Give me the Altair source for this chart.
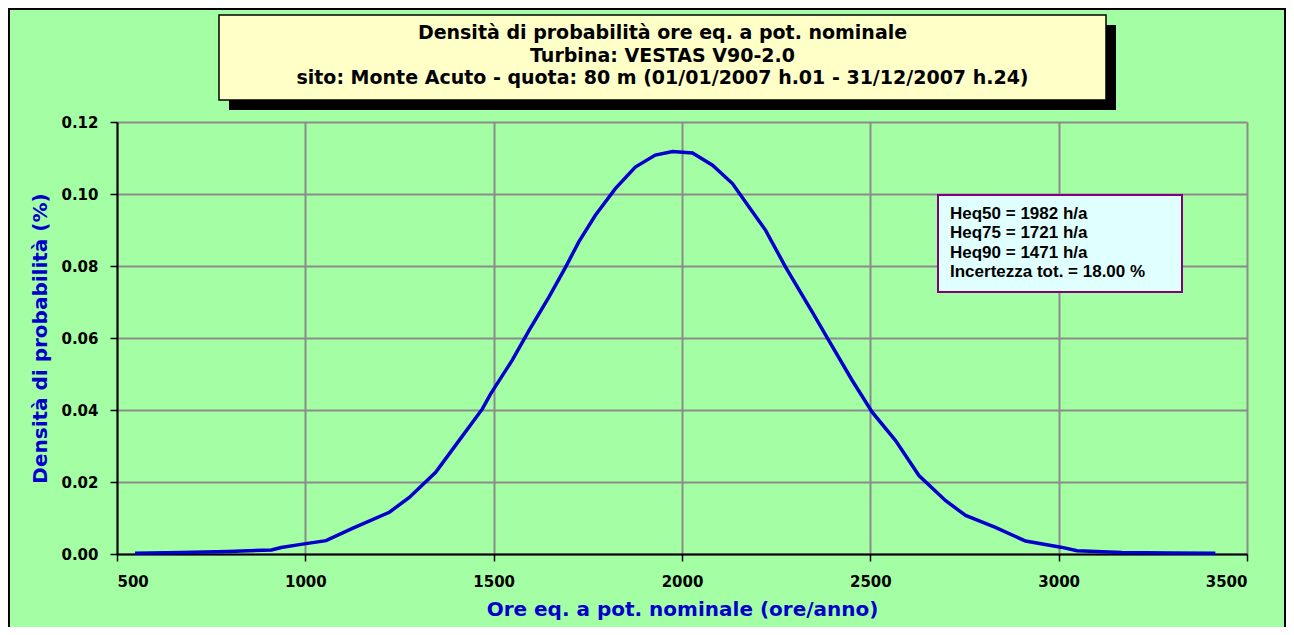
import altair as alt
import pandas as pd

# ---- data ----
hours = [548, 671, 795, 910, 936, 984, 1055, 1125, 1223, 1276, 1346, 1408, 1470, 1492,
         1549, 1594, 1647, 1691, 1726, 1770, 1823, 1876, 1929, 1975, 2028, 2081, 2134,
         2178, 2222, 2275, 2346, 2390, 2452, 2505, 2567, 2629, 2700, 2753, 2832, 2912,
         3006, 3049, 3168, 3296, 3416]
density = [0.0002, 0.0004, 0.0007, 0.0011, 0.0018, 0.0026, 0.0037, 0.0071, 0.0116, 0.0157,
           0.0227, 0.0315, 0.0403, 0.0445, 0.0538, 0.0621, 0.0714, 0.0797, 0.0867, 0.0941,
           0.1015, 0.1075, 0.1108, 0.1118, 0.1114, 0.1080, 0.1029, 0.0964, 0.0899, 0.0797,
           0.0672, 0.0593, 0.0482, 0.0394, 0.0315, 0.0218, 0.0148, 0.0107, 0.0074, 0.0036,
           0.0019, 0.0009, 0.0004, 0.0003, 0.0002]

x_ticks = [500, 1000, 1500, 2000, 2500, 3000, 3500]
y_ticks = [0.00, 0.02, 0.04, 0.06, 0.08, 0.10, 0.12]

title_lines = [
    "Densità di probabilità ore eq. a pot. nominale",
    "Turbina: VESTAS V90-2.0",
    "sito: Monte Acuto - quota: 80 m (01/01/2007 h.01 - 31/12/2007 h.24)",
]
stat_lines = [
    "Heq50 = 1982 h/a",
    "Heq75 = 1721 h/a",
    "Heq90 = 1471 h/a",
    "Incertezza tot. = 18.00 %",
]
x_title = "Ore eq. a pot. nominale (ore/anno)"
y_title = "Densità di probabilità (%)"

W, H = 1130, 432
one = pd.DataFrame({"a": [0]})
df = pd.DataFrame({"h": hours, "d": density})

frame = alt.Chart(one).mark_rect(fillOpacity=0, stroke="black", strokeWidth=2).encode(
    x=alt.value(-108), x2=alt.value(1168), y=alt.value(-113), y2=alt.value(700)
)

line = alt.Chart(df).mark_line(color="#0000CC", strokeWidth=3.5).encode(
    x=alt.X("h:Q", scale=alt.Scale(domain=[500, 3500], nice=False, zero=False),
            axis=alt.Axis(values=x_ticks, format="d", title=x_title, titlePadding=10,
                          labelPadding=13)),
    y=alt.Y("d:Q", scale=alt.Scale(domain=[0, 0.12], nice=False),
            axis=alt.Axis(values=y_ticks, format=".2f", title=y_title, titlePadding=10,
                          labelPadding=12)),
)

shadow = alt.Chart(one).mark_rect(color="black").encode(
    x=alt.value(112), x2=alt.value(999), y=alt.value(-97), y2=alt.value(-12)
)
tbox = alt.Chart(one).mark_rect(fill="#FFFFC8", stroke="black", strokeWidth=1.5).encode(
    x=alt.value(102), x2=alt.value(989), y=alt.value(-107), y2=alt.value(-22)
)
title_layers = [
    alt.Chart(one).mark_text(font="DejaVu Sans", fontSize=19, fontWeight="bold", color="black",
                             align="center", baseline="middle").encode(
        x=alt.value(545.5), y=alt.value(-89 + 22.5 * i), text=alt.value(t))
    for i, t in enumerate(title_lines)
]

sbox = alt.Chart(one).mark_rect(fill="#E0FFFF", stroke="#800080", strokeWidth=2).encode(
    x=alt.value(821), x2=alt.value(1065), y=alt.value(73), y2=alt.value(170)
)
stat_layers = [
    alt.Chart(one).mark_text(font="Liberation Sans", fontSize=17, fontWeight="bold",
                             color="black", align="left", baseline="middle").encode(
        x=alt.value(833), y=alt.value(92 + 19.3 * i), text=alt.value(t))
    for i, t in enumerate(stat_lines)
]

chart = alt.layer(frame, line, shadow, tbox, *title_layers, sbox, *stat_layers).properties(
    width=W, height=H,
    autosize=alt.AutoSizeParams(type="none"),
    padding={"left": 109, "top": 114, "right": 39, "bottom": 73},
    background="#A4FFA4",
).configure_view(strokeWidth=0).configure_axis(
    labelFont="DejaVu Sans", labelFontSize=15, labelFontWeight="bold", labelColor="black",
    domainColor="black", domainWidth=2, tickColor="black", tickWidth=1.5, tickSize=7,
    gridColor="#8c8c8c", gridWidth=2,
    titleFont="DejaVu Sans", titleFontSize=20, titleFontWeight="bold", titleColor="#0000CC",
)

chart.save("out.html", embed_options={"renderer": "svg", "actions": False})
